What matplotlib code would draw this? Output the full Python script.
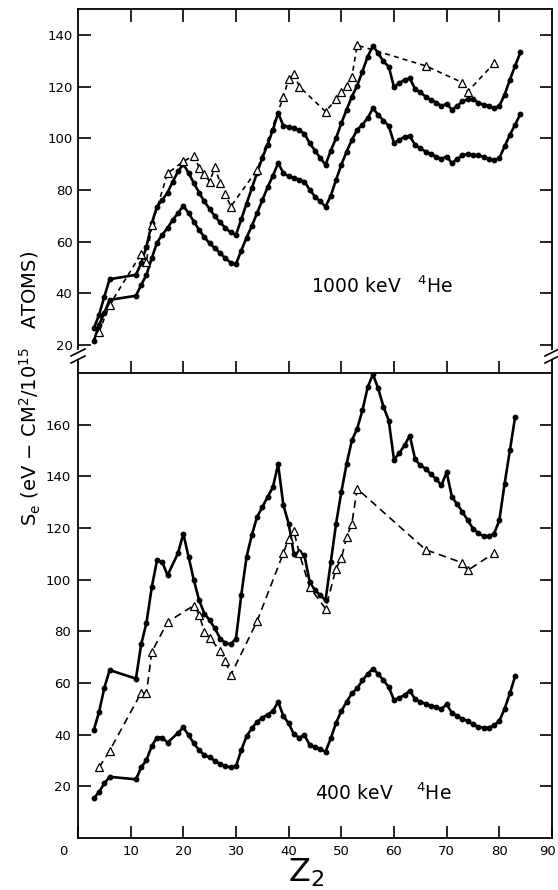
import matplotlib
matplotlib.use("Agg")
import matplotlib.pyplot as plt
from matplotlib.lines import Line2D
from matplotlib.transforms import ScaledTranslation

plt.rcParams['font.family'] = ['DejaVu Sans']
plt.rcParams['mathtext.default'] = 'regular'

# === Data ===
# top panel: atomic number Z2 for both solid curves
z_top = [3, 4, 5, 6, 11, 12, 13, 14, 15, 16, 17, 18, 19, 20,
         21, 22, 23, 24, 25, 26, 27, 28, 29, 30,
         31, 32, 33, 34, 35, 36, 37, 38, 39, 40,
         41, 42, 43, 44, 45, 46, 47, 48, 49, 50,
         51, 52, 53, 54, 55, 56, 57, 58, 59, 60,
         61, 62, 63, 64, 65, 66, 67, 68, 69, 70,
         71, 72, 73, 74, 75, 76, 77, 78, 79, 80,
         81, 82, 83, 84]
top_upper = [26.4, 31.6, 38.7, 45.4,
             47.1, 51.6, 58.0, 67.0, 73.5, 76.1, 78.9, 83.2, 87.1, 90.0,
             86.5, 82.6, 78.9, 75.5, 72.6, 69.7, 67.4, 65.2, 63.5, 62.6,
             68.6, 74.6, 80.6, 86.6, 92.4, 97.5, 103.2, 109.7, 104.8, 104.5,
             103.9, 103.0, 101.8, 98.0, 95.2, 92.3, 89.7, 95.2, 100.0, 105.8,
             111.0, 116.1, 120.3, 125.8, 131.6, 135.7, 132.9, 129.7, 127.7, 119.8,
             121.3, 122.6, 123.2, 119.0, 117.7, 116.1, 114.8, 113.8, 112.5, 113.3,
             111.0, 112.5, 114.2, 115.1, 115.0, 113.8, 112.9, 112.5, 111.6, 112.5,
             116.8, 122.6, 128.0, 133.2]
top_lower = [21.5, 27.7, 32.4, 37.4,
             39.0, 43.2, 47.1, 53.5, 59.6, 62.6, 65.2, 68.4, 71.0, 73.8,
             71.0, 67.7, 64.5, 61.7, 59.3, 57.4, 55.5, 53.5, 51.8, 51.3,
             56.5, 61.5, 66.0, 71.0, 76.0, 81.0, 85.5, 90.3, 86.5, 85.2,
             84.6, 84.0, 83.2, 80.0, 77.4, 75.5, 73.5, 77.7, 83.9, 89.7,
             94.8, 99.3, 103.2, 105.2, 107.8, 111.6, 109.0, 106.8, 104.8, 98.1,
             99.3, 100.6, 100.8, 97.4, 96.1, 94.8, 93.8, 92.9, 92.0, 92.9,
             90.3, 92.0, 93.3, 94.0, 93.6, 93.3, 92.8, 92.0, 91.4, 92.3,
             96.8, 101.3, 105.2, 109.4]
z_tri_top = [4, 6, 12, 13, 14, 17, 20, 22, 23, 24,
             25, 26, 27, 28, 29, 34, 39, 40, 41, 42,
             47, 49, 50, 51, 52, 53, 66, 73, 74, 79]
tri_top = [25.0, 35.5, 55.2, 52.2, 66.3, 86.4, 91.0, 93.2, 88.6, 86.2,
           83.2, 88.8, 82.6, 78.4, 73.5, 87.7, 116.0, 123.0, 125.0, 120.0,
           110.3, 115.0, 118.0, 120.3, 123.6, 136.0, 128.0, 121.5, 118.0, 129.0]

# bottom panel
z_bot = [3, 4, 5, 6, 11, 12, 13, 14, 15, 16, 17, 19, 20,
         21, 22, 23, 24, 25, 26, 27, 28, 29, 30,
         31, 32, 33, 34, 35, 36, 37, 38, 39, 40,
         41, 42, 43, 44, 45, 46, 47, 48, 49, 50,
         51, 52, 53, 54, 55, 56, 57, 58, 59, 60,
         61, 62, 63, 64, 65, 66, 67, 68, 69, 70,
         71, 72, 73, 74, 75, 76, 77, 78, 79, 80,
         81, 82, 83]
bot_upper = [41.8, 48.8, 58.1, 65.0,
             61.7, 75.0, 83.3, 97.0, 107.5, 106.8, 101.7, 110.3, 117.8,
             108.8, 99.8, 92.0, 86.9, 84.3, 81.1, 77.2, 75.5, 75.0, 77.2,
             94.0, 108.8, 117.2, 124.3, 128.1, 132.0, 135.8, 144.6, 128.8, 121.7,
             109.8, 110.7, 109.4, 99.0, 95.9, 94.0, 92.0, 106.8, 121.7, 133.9,
             144.8, 153.9, 158.4, 165.5, 174.5, 179.5, 174.0, 167.0, 161.6, 146.4,
             149.0, 152.0, 155.8, 146.7, 144.2, 143.0, 140.8, 139.0, 136.5, 141.6,
             132.0, 129.2, 126.2, 123.0, 119.8, 118.0, 116.8, 116.8, 117.8, 123.0,
             137.1, 150.0, 163.0]
bot_lower = [15.3, 17.9, 21.1, 23.7,
             22.7, 27.3, 30.2, 35.6, 38.9, 38.9, 36.9, 40.7, 42.8,
             39.8, 36.6, 34.0, 32.1, 31.2, 29.9, 28.6, 27.9, 27.3, 27.8,
             34.0, 39.4, 42.4, 45.0, 46.5, 47.8, 49.1, 52.7, 47.2, 44.4,
             40.1, 38.9, 39.8, 36.0, 35.1, 34.3, 33.4, 38.6, 44.6, 49.1,
             52.7, 56.0, 57.9, 61.0, 63.5, 65.6, 63.5, 61.0, 58.5, 53.4,
             54.3, 55.3, 57.0, 53.8, 52.7, 52.0, 51.2, 50.7, 49.9, 51.8,
             48.4, 47.2, 46.1, 45.3, 44.0, 43.1, 42.7, 42.7, 43.6, 45.3,
             50.0, 56.0, 62.6]
z_tri_bot = [4, 6, 12, 13, 14, 17, 22, 23, 24, 25,
             27, 28, 29, 34, 39, 40, 41, 42, 44, 47,
             49, 50, 51, 52, 53, 66, 73, 74, 79]
tri_bot = [27.3, 33.8, 56.2, 56.0, 72.0, 83.6, 90.0, 86.5, 79.8, 77.5,
           72.4, 68.6, 63.0, 83.9, 110.3, 115.9, 118.7, 110.3, 97.0, 88.8,
           104.3, 108.2, 116.5, 121.7, 135.2, 111.6, 106.5, 103.6, 110.3]

x_ticks = [0, 10, 20, 30, 40, 50, 60, 70, 80, 90]
top_yticks = [20, 40, 60, 80, 100, 120, 140]
bot_yticks = [20, 40, 60, 80, 100, 120, 140, 160]

# === Figure layout (pixel based) ===
W, H = 558, 890
fig = plt.figure(figsize=(W / 100, H / 100), dpi=100)
fig.patch.set_facecolor('white')

def fx(px):
    return px / W

def fy(py):
    return 1 - py / H

L, R = 78, 552
ax_top = fig.add_axes([fx(L), fy(373), (R - L) / W, (373 - 9) / H])
ax_bot = fig.add_axes([fx(L), fy(838), (R - L) / W, (838 - 373) / H])

solid_kw = dict(color='black', lw=1.9, marker='o', ms=3.2, mfc='black', mec='black')
dash_kw = dict(color='black', lw=1.2, marker='^', ms=5.5, mfc='white', mec='black', mew=0.9)

# top panel
ax_top.plot(z_top, top_upper, **solid_kw)
ax_top.plot(z_top, top_lower, **solid_kw)
ax_top.plot(z_tri_top, tri_top, linestyle=(0, (3, 2.5)), **dash_kw)
ax_top.set_xlim(0, 90)
ax_top.set_ylim(9.1, 150)
ax_top.set_xticks(x_ticks[1:-1])
ax_top.set_yticks(top_yticks)
ax_top.tick_params(direction='in', length=9, width=1.2, top=True, bottom=True,
                   left=True, right=True, labelbottom=False, labelsize=9.5, pad=4)
ax_top.spines['bottom'].set_visible(False)
for s in ['left', 'right']:
    ax_top.spines[s].set_bounds(18.2, 150)
for s in ax_top.spines.values():
    s.set_linewidth(1.3)
ax_top.text(44.3, 42.5, r'1000 keV   $^{4}$He', fontsize=13.5, va='center')

# bottom panel
ax_bot.plot(z_bot, bot_upper, **solid_kw)
ax_bot.plot(z_bot, bot_lower, **solid_kw)
ax_bot.plot(z_tri_bot, tri_bot, linestyle=(0, (4.5, 3)), **dash_kw)
ax_bot.set_xlim(0, 90)
ax_bot.set_ylim(0, 180)
ax_bot.set_xticks(x_ticks)
ax_bot.set_yticks(bot_yticks)
ax_bot.tick_params(direction='in', length=9, width=1.2, top=False, right=True,
                   labelsize=9.5, pad=5)
for s in ax_bot.spines.values():
    s.set_linewidth(1.3)
# the "0" label sits left of the axis corner, "90" is pulled in from the edge
xlabels = ax_bot.get_xticklabels()
xlabels[0].set_transform(xlabels[0].get_transform()
                         + ScaledTranslation(-0.15, 0, fig.dpi_scale_trans))
xlabels[-1].set_transform(xlabels[-1].get_transform()
                          + ScaledTranslation(-0.05, 0, fig.dpi_scale_trans))
ax_bot.text(45.0, 17.4, r'400 keV    $^{4}$He', fontsize=13.5, va='center')

# axis break: short spine pieces and "//" marks on both sides
for px in (L, R):
    fig.add_artist(Line2D([fx(px), fx(px)], [fy(361), fy(373)], color='black',
                          lw=1.3, transform=fig.transFigure))
    for py in (352.5, 359.5):
        fig.add_artist(Line2D([fx(px - 7), fx(px + 7)], [fy(py + 3.5), fy(py - 3.5)],
                              color='black', lw=1.2, transform=fig.transFigure))

# axis labels
fig.text(fx(30), fy(388), r'S$_e$ (eV $-$ CM$^2$/10$^{15}$   ATOMS)', rotation=90,
         fontsize=14, ha='center', va='center')
fig.text(fx(306), fy(857), r'Z$_2$', fontsize=23, ha='center', va='top')

fig.savefig('out.png', dpi=100)
